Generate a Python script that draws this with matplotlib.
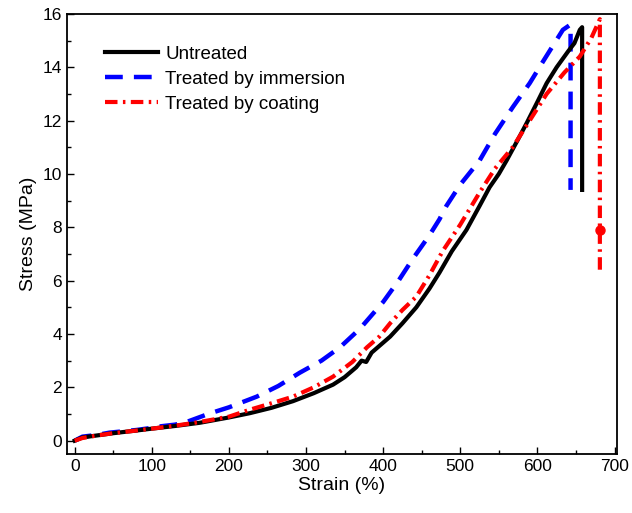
import matplotlib
matplotlib.use("Agg")
import matplotlib.pyplot as plt
from matplotlib.ticker import MultipleLocator

plt.rcParams['font.family'] = ['Liberation Sans', 'DejaVu Sans']

untreated_x = [0, 10, 30, 50, 80, 100, 130, 162, 200, 227, 255, 283, 310, 335, 350, 365, 372, 378, 385, 395, 409, 425, 443, 460, 473, 489, 508, 525, 538, 550, 560, 575, 586, 600, 612, 625, 640, 648, 655, 658, 658]
untreated_y = [0, 0.12, 0.2, 0.28, 0.38, 0.45, 0.55, 0.67, 0.87, 1.03, 1.23, 1.48, 1.78, 2.1, 2.38, 2.75, 3.0, 2.95, 3.3, 3.55, 3.9, 4.4, 5.0, 5.7, 6.3, 7.1, 7.9, 8.8, 9.5, 10.0, 10.5, 11.3, 11.9, 12.7, 13.4, 14.0, 14.6, 14.9, 15.4, 15.5, 9.4]

immersion_x = [0, 10, 30, 45, 80, 100, 106, 130, 140, 145, 175, 200, 236, 264, 292, 320, 344, 370, 400, 420, 438, 460, 473, 482, 500, 525, 545, 568, 590, 607, 620, 633, 643, 643]
immersion_y = [0, 0.15, 0.22, 0.3, 0.4, 0.48, 0.52, 0.6, 0.66, 0.7, 1.02, 1.25, 1.65, 2.05, 2.55, 3.0, 3.5, 4.2, 5.2, 6.0, 6.8, 7.7, 8.3, 8.8, 9.6, 10.5, 11.5, 12.5, 13.4, 14.2, 14.8, 15.4, 15.6, 9.4]

coating_x = [0, 10, 30, 50, 80, 100, 130, 162, 200, 227, 255, 283, 310, 335, 360, 379, 395, 409, 425, 443, 460, 477, 500, 525, 545, 568, 590, 612, 635, 655, 670, 681, 681]
coating_y = [0, 0.1, 0.2, 0.28, 0.38, 0.45, 0.56, 0.7, 0.9, 1.16, 1.4, 1.65, 2.0, 2.4, 2.95, 3.5, 3.9, 4.4, 4.9, 5.4, 6.2, 7.1, 8.1, 9.3, 10.2, 11.0, 12.0, 13.0, 13.8, 14.4, 15.1, 15.8, 6.4]

coating_marker_x = [681]
coating_marker_y = [7.9]

fig = plt.figure(figsize=(6.32, 5.13), dpi=100)
ax = fig.add_axes([0.106, 0.115, 0.87, 0.858])

ax.plot(untreated_x, untreated_y, color='black', lw=3.0, label='Untreated', zorder=3)
ax.plot(immersion_x, immersion_y, color='#0000ff', lw=3.2, linestyle=(0, (4, 2.5)), label='Treated by immersion', zorder=2)
ax.plot(coating_x, coating_y, color='#ff0000', lw=3.0, linestyle=(0, (3.0, 1.3, 0.6, 1.3)), label='Treated by coating', zorder=4)
ax.plot(coating_marker_x, coating_marker_y, 'o', color='#ff0000', ms=6.5, zorder=5)

ax.set_xlim(-10, 703)
ax.set_ylim(-0.5, 16)
ax.xaxis.set_major_locator(MultipleLocator(100))
ax.xaxis.set_minor_locator(MultipleLocator(50))
ax.yaxis.set_major_locator(MultipleLocator(2))
ax.yaxis.set_minor_locator(MultipleLocator(1))
ax.tick_params(which='both', direction='in', top=False, right=False, labelsize=12.5)
ax.tick_params(which='major', length=5, width=1)
ax.tick_params(which='minor', length=3, width=1)
for s in ax.spines.values():
    s.set_linewidth(1.3)

ax.set_xlabel('Strain (%)', fontsize=14, labelpad=2)
ax.set_ylabel('Stress (MPa)', fontsize=14, labelpad=4)

leg = ax.legend(loc='upper left', bbox_to_anchor=(0.056, 0.945), frameon=False, fontsize=13.5,
                handlelength=2.8, handletextpad=0.4, labelspacing=0.42, borderaxespad=0)

fig.savefig('out.png', dpi=100)
